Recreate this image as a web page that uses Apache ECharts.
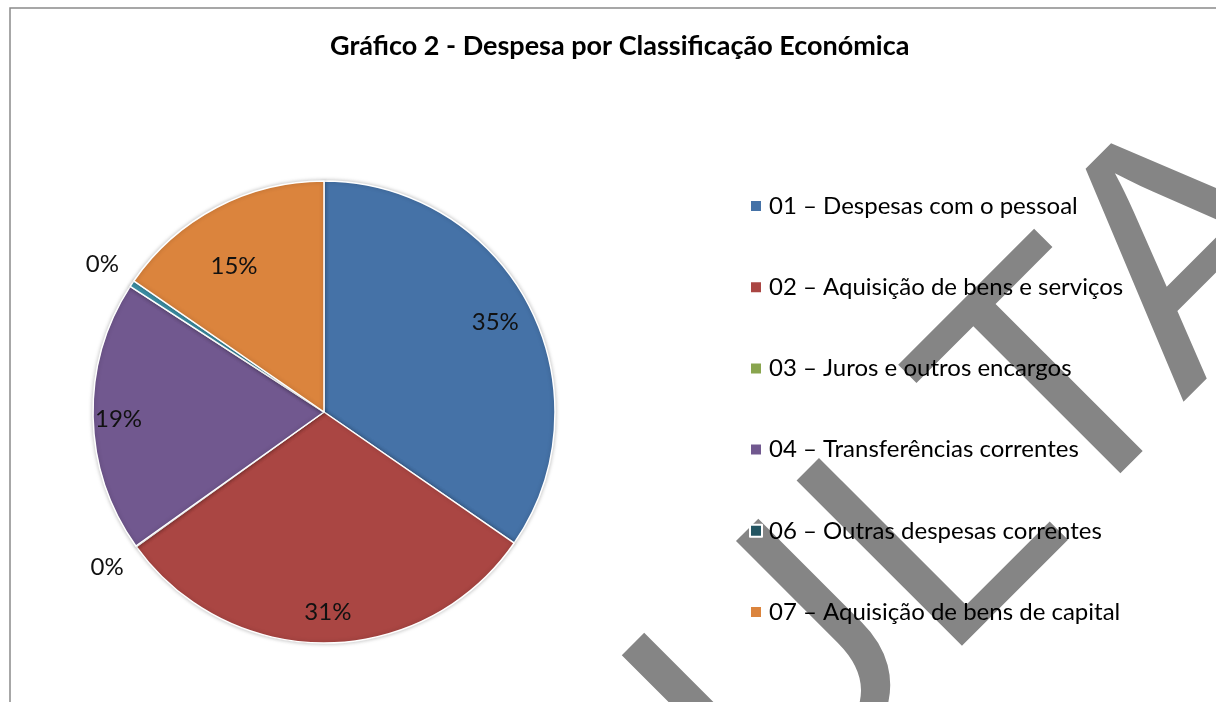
<!DOCTYPE html>
<html>
<head>
<meta charset="utf-8">
<script src="https://cdn.jsdelivr.net/npm/echarts@6/dist/echarts.min.js"></script>
<style>
  html, body { margin: 0; padding: 0; background: #fff; }
  #chart { width: 1216px; height: 702px; }
</style>
</head>
<body>
<div id="chart"></div>
<script>
const categories = [
  '01 – Despesas com o pessoal',
  '02 – Aquisição de bens e serviços',
  '03 – Juros e outros encargos',
  '04 – Transferências correntes',
  '06 – Outras despesas correntes',
  '07 – Aquisição de bens de capital'
];
// shares in %
const values = [34.6, 30.5, 0.05, 19.0, 0.45, 15.4];

const sliceColors = ['#4572A7', '#AA4643', '#89A54E', '#71588F', '#4198AF', '#DB843D'];
const legendColors = ['#4572A7', '#AA4643', '#89A54E', '#71588F', '#235562', '#DB843D'];

const total = values.reduce((a, b) => a + b, 0);
const isTiny = v => Math.round(v / total * 100) === 0;

const chart = echarts.init(document.getElementById('chart'));

const font = 'Lato';
const center = [324, 412];

// pie slices themselves
const pieData = categories.map((name, i) => ({
  name, value: values[i], itemStyle: { color: sliceColors[i] }
}));
// transparent rings only used to place the percent labels
const innerLabels = categories.map((name, i) => ({
  name, value: values[i], label: { show: !isTiny(values[i]) }
}));
// Excel's "best fit" puts a few labels off the mid radius
innerLabels[1].label.offset = [2, 7];
innerLabels[3].label.offset = [-12, 3];
innerLabels[5].label.offset = [0, 26];
const outerLabels = categories.map((name, i) => ({
  name, value: values[i], label: { show: isTiny(values[i]) }
}));

const labelRing = (radius, data) => ({
  type: 'pie',
  center: center,
  radius: radius,
  startAngle: 90,
  silent: true,
  percentPrecision: 0,
  itemStyle: { color: 'rgba(0,0,0,0)', borderWidth: 0 },
  label: {
    position: 'inside',
    formatter: '{d}%',
    color: '#111',
    fontFamily: font,
    fontSize: 24
  },
  labelLine: { show: false },
  emphasis: { disabled: true },
  data: data
});

// watermark, drawn as three pieces so the L-T-A spacing is kerned
const wmSize = 340;
const wmFont = wmSize + 'px "Liberation Sans"';
const wmStyle = (text, align) => ({ text, align, verticalAlign: 'middle', font: wmFont, fill: '#858585' });
const wmY = -0.3465 * wmSize + 21;

chart.setOption({
  animation: false,
  title: {
    text: 'Gráfico 2 - Despesa por Classificação Económica',
    left: 330,
    top: 33,
    padding: 0,
    textStyle: { fontFamily: font, fontWeight: 'bold', fontSize: 27, color: '#000' }
  },
  legend: {
    orient: 'vertical',
    left: 749,
    top: 194,
    padding: 0,
    icon: 'rect',
    itemWidth: 12,
    itemHeight: 12,
    itemGap: 57.2,
    selectedMode: false,
    textStyle: { fontFamily: font, fontSize: 24, color: '#000', lineHeight: 24, padding: [0, 0, 0, 2] },
    data: categories.map((name, i) => ({ name, itemStyle: { color: legendColors[i] } }))
  },
  graphic: [
    {
      type: 'rect',
      z: 0,
      shape: { x: 10, y: 8, width: 1400, height: 900 },
      style: { fill: 'none', stroke: '#8a8a8a', lineWidth: 1.5 }
    },
    {
      type: 'group',
      z: 1,
      x: 962,
      y: 636,
      rotation: Math.PI / 4,
      children: [
        { type: 'text', x: 0.483 * wmSize - 10, y: wmY + 10, style: wmStyle('CONSUL', 'right') },
        { type: 'text', x: 0.409 * wmSize, y: wmY, style: wmStyle('T', 'left') },
        { type: 'text', x: 0.946 * wmSize, y: wmY - 6, style: wmStyle('A', 'left') }
      ]
    }
  ],
  series: [
    {
      type: 'pie',
      center: center,
      radius: 231,
      startAngle: 90,
      label: { show: false },
      labelLine: { show: false },
      itemStyle: {
        borderColor: '#fff',
        borderWidth: 1.5,
        shadowBlur: 4,
        shadowColor: 'rgba(0,0,0,0.25)'
      },
      emphasis: { disabled: true },
      data: pieData
    },
    labelRing([150, 231], innerLabels),
    labelRing([246, 281], outerLabels)
  ]
});
</script>
</body>
</html>
